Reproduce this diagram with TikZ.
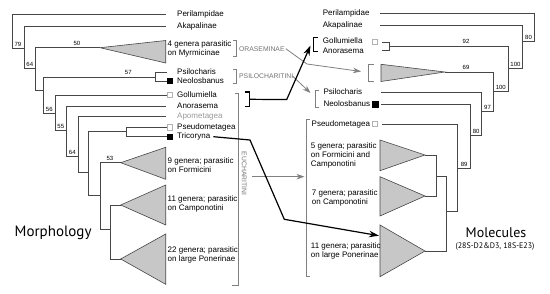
\documentclass[tikz,border=0pt]{standalone}
\usepackage{fontspec}
\setmainfont{Liberation Sans}
\newfontfamily\titlefont{PT Sans}
\usetikzlibrary{arrows.meta}

\begin{document}
\begin{tikzpicture}[x=1pt, y=-1pt,
		br/.style={draw=black!72, line width=0.6pt},
		tri/.style={draw=black!72, fill=black!22, line width=0.6pt},
		tip/.style={anchor=west, inner sep=0pt, text height=6pt, text depth=1.7pt, font=\fontsize{8}{9}\selectfont},
		txt/.style={anchor=west, inner sep=0pt, align=left, font=\fontsize{8}{9}\selectfont},
		boot/.style={inner sep=0pt, font=\fontsize{6}{6}\selectfont},
		grp/.style={anchor=west, inner sep=0pt, text=black!55, font=\fontsize{6.8}{7}\selectfont},
		gbr/.style={draw=black!50, line width=0.6pt},
		kbr/.style={draw=black, line width=1.6pt},
		sq/.style={draw=black!30, line width=0.5pt, minimum size=5.3pt, inner sep=0pt},
		bsq/.style={sq, draw=black, fill=black},
		garrow/.style={draw=black!50, line width=0.8pt, -{Stealth[length=8pt, width=5.5pt]}},
		karrow/.style={draw=black, line width=1.2pt, -{Stealth[length=10pt, width=6.5pt]}}
		]
		\useasboundingbox (0,0) rectangle (550,294);

		% morphology tree
		\node[tip] (periL) at (177,14.7) {Perilampidae};
		\node[tip] (akapL) at (177,26.7) {Akapalinae};
		\node[tip] (psilL) at (177,72.3) {Psilocharis};
		\node[tip] (neolL) at (177,81) {Neolosbanus};
		\node[tip] (gollL) at (177,95) {Gollumiella};
		\node[tip] (anorL) at (177,106) {Anorasema};
		\node[tip, text=black!40] (apomL) at (177,116.7) {Apometagea};
		\node[tip] (pseuL) at (177,127.3) {Pseudometagea};
		\node[tip] (tricL) at (177,136.7) {Tricoryna};
		\node[bsq] (sqNeolL) at (169.7,81) {};
		\node[sq] (sqGollL) at (169.5,95) {};
		\node[sq] (sqPseuL) at (169.5,127.3) {};
		\node[bsq] (sqTricL) at (169.5,136.7) {};

		\coordinate (mR) at (12.3,48.3);
		\coordinate (m1) at (24.3,48.3);
		\coordinate (m2) at (35.7,68.3);
		\coordinate (m3) at (43.7,90);
		\coordinate (mPs) at (155.7,77.3);
		\coordinate (m4) at (55,113.3);
		\coordinate (m5) at (66.7,130);
		\coordinate (m6) at (78.3,156);
		\coordinate (m7) at (88.3,172.7);
		\coordinate (mPu) at (126.7,131);
		\coordinate (m8) at (100,195);
		\coordinate (m9) at (110,229.3);
		\coordinate (oraTL) at (100,47.7);
		\coordinate (t9L) at (120.7,162.7);
		\coordinate (t11L) at (120.7,205);
		\coordinate (t22L) at (120.7,259);

		\draw[tri] (oraTL) -- (165.7,40.5) -- (165.7,63) -- cycle;
		\draw[tri] (t9L) -- (165.7,147.3) -- (165.7,179.3) -- cycle;
		\draw[tri] (t11L) -- (165.7,185) -- (165.7,225) -- cycle;
		\draw[tri] (t22L) -- (165.7,234) -- (165.7,284.3) -- cycle;

		\draw[br] (mR) |- ([xshift=-11pt]periL.west);
		\draw[br] (mR) -- (m1);
		\draw[br] (m1) |- ([xshift=-11pt]akapL.west);
		\draw[br] (m1) |- (m2);
		\draw[br] (m2) |- (oraTL);
		\draw[br] (m2) |- (m3);
		\draw[br] (m3) |- (mPs);
		\draw[br] (mPs) |- (sqNeolL.west);
		\draw[br] (mPs) |- ([xshift=-10pt]psilL.west);
		\draw[br] (m3) |- (m4);
		\draw[br] (m4) |- (sqGollL.west);
		\draw[br] (m4) |- (m5);
		\draw[br] (m5) |- ([xshift=-11pt]anorL.west);
		\draw[br] (m5) |- (m6);
		\draw[br] (m6) |- ([xshift=-11pt]apomL.west);
		\draw[br] (m6) |- (m7);
		\draw[br] (m7) |- (mPu);
		\draw[br] (mPu) |- (sqPseuL.west);
		\draw[br] (mPu) |- (sqTricL.west);
		\draw[br] (m7) |- (m8);
		\draw[br] (m8) |- (t9L);
		\draw[br] (m8) |- (m9);
		\draw[br] (m9) |- (t11L);
		\draw[br] (m9) |- (t22L);

		\node[boot] at (18,44.3) {79};
		\node[boot] at (29.8,64.6) {64};
		\node[boot] at (77,43.6) {50};
		\node[boot] at (128.3,72.6) {57};
		\node[boot] at (49.3,109.6) {56};
		\node[boot] at (60.8,126.3) {55};
		\node[boot] at (72.3,152.2) {64};
		\node[boot] at (110,158.8) {53};

		\node[txt] (oraTxtL) at (167.5,49) {4 genera parasitic\\on Myrmicinae};
		\node[txt] (f9L) at (167.5,165) {9 genera; parasitic\\on Formicini};
		\node[txt] (c11L) at (167.5,204.2) {11 genera; parasitic\\on Camponotini};
		\node[txt] (p22L) at (167.5,255.2) {22 genera; parasitic\\on large Ponerinae};

		% groups on the left
		\draw[gbr] (233,40) -- (236,40) -- (236,56) -- (233,56);
		\draw[gbr] (233,69) -- (236,69) -- (236,83) -- (233,83);
		\draw[gbr] (235,93.3) -- (238.3,93.3) -- (238.3,285.7) -- (232,285.7);
		\node[grp] (oraG) at (239,48.7) {ORASEMINAE};
		\node[grp] (psiG) at (239,76) {PSILOCHARITINI};
		\node[grp, anchor=center, rotate=-90] (eucG) at (244.3,173.5) {EUCHARITINI};
		\draw[kbr] (244.5,92.3) -- (249.5,92.3) -- (249.5,106.5) -- (244.5,106.5);
		\coordinate (golBrL) at (249.5,99.3);

		\node[font=\titlefont\fontsize{15}{15}\selectfont, anchor=west, inner sep=0pt] (morph) at (14.5,232.5) {Morphology};

		% molecular tree
		\node[tip] (periR) at (322.7,13.3) {Perilampidae};
		\node[tip] (akapR) at (322.7,25.7) {Akapalinae};
		\node[tip] (gollR) at (322.7,41) {Gollumiella};
		\node[tip] (anorR) at (322.7,51.5) {Anorasema};
		\node[tip] (psilR) at (323.3,92.3) {Psilocharis};
		\node[tip] (neolR) at (323.3,104.3) {Neolosbanus};
		\node[tip] (pseuR) at (311.5,124) {Pseudometagea};
		\node[sq] (sqGollR) at (374.5,41.5) {};
		\node[bsq] (sqNeolR) at (375.3,104.3) {};
		\node[sq] (sqPseuR) at (374.8,124) {};

		\coordinate (nR) at (534.3,41.7);
		\coordinate (n1) at (522.7,41.7);
		\coordinate (n2) at (508.3,68.3);
		\coordinate (nGo) at (389.3,46.5);
		\coordinate (n3) at (493.3,91);
		\coordinate (n4) at (481.7,111);
		\coordinate (n5) at (470.7,135);
		\coordinate (n6) at (457.7,168);
		\coordinate (n7) at (446.7,211.7);
		\coordinate (n8) at (436,176);
		\coordinate (oraTR) at (445,72);
		\coordinate (t5R) at (425,155);
		\coordinate (t7R) at (425,196);
		\coordinate (t11R) at (425,251);

		\draw[tri] (oraTR) -- (381,64.3) -- (381,81.5) -- cycle;
		\draw[tri] (t5R) -- (380,140) -- (380,170.7) -- cycle;
		\draw[tri] (t7R) -- (380,176.7) -- (380,216) -- cycle;
		\draw[tri] (t11R) -- (380,225) -- (380,276.7) -- cycle;

		\draw[br] (nR) |- (380,13.3);
		\draw[br] (nR) -- (n1);
		\draw[br] (n1) |- (380,25.7);
		\draw[br] (n1) |- (n2);
		\draw[br] (n2) |- (nGo);
		\draw[br] (nGo) |- (382,42.5);
		\draw[br] (nGo) |- (382,50.5);
		\draw[br] (n2) |- (n3);
		\draw[br] (n3) |- (oraTR);
		\draw[br] (n3) |- (n4);
		\draw[br] (n4) |- (381,92.3);
		\draw[br] (n4) |- (n5);
		\draw[br] (n5) |- ([xshift=3pt]sqNeolR.east);
		\draw[br] (n5) |- (n6);
		\draw[br] (n6) |- ([xshift=4pt]sqPseuR.east);
		\draw[br] (n6) |- (n7);
		\draw[br] (n7) |- (n8);
		\draw[br] (n7) |- (t11R);
		\draw[br] (n8) |- (t5R);
		\draw[br] (n8) |- (t7R);

		\node[boot] at (528.5,37.6) {80};
		\node[boot] at (515.5,64.3) {100};
		\node[boot] at (466,41.8) {92};
		\node[boot] at (500.8,87) {100};
		\node[boot] at (466,67.8) {69};
		\node[boot] at (487.5,107) {97};
		\node[boot] at (476.2,131) {80};
		\node[boot] at (464.2,164.2) {89};

		\node[txt] (f5R) at (310.7,155) {5 genera; parasitic\\on Formicini and\\Camponotini};
		\node[txt] (c7R) at (311.7,197.5) {7 genera; parasitic\\on Camponotini};
		\node[txt] (p11R) at (310.7,250.5) {11 genera; parasitic\\on large Ponerinae};

		% groups on the right
		\draw[gbr] (374,64) -- (368.3,64) -- (368.3,81.5) -- (374,81.5);
		\draw[gbr] (319,90) -- (315,90) -- (315,107.3) -- (319,107.3);
		\draw[gbr] (310,119) -- (306.7,119) -- (306.7,276) -- (310,276);
		\draw[kbr] (318,37.5) -- (313.5,37.5) -- (313.5,51.5) -- (318,51.5);
		\coordinate (golBrR) at (310.5,45.5);
		\coordinate (oraBrR) at (361,71.5);
		\coordinate (psiBrR) at (310.5,93);
		\coordinate (eucBrR) at (304.5,176.7);
		\coordinate (p11In) at (379,235.7);

		\node[font=\titlefont\fontsize{14}{14}\selectfont, inner sep=0pt] (molec) at (496,232.5) {Molecules};
		\node[font=\titlefont\fontsize{8}{8}\selectfont, inner sep=0pt] (markers) at (495,246.5) {(28S-D2\&D3, 18S-E23)};

		% connectors between the trees
		\draw[garrow] ([xshift=1pt]oraG.east) -- (307,64) -- (oraBrR);
		\draw[garrow] ([xshift=-1pt]psiG.east) -- (psiBrR);
		\draw[garrow] (251.5,176.7) -- (eucBrR);
		\draw[karrow] (golBrL) -- (286.7,99.6) -- (golBrR);
		\draw[karrow] ([xshift=3pt]tricL.east) -- (250,140) -- (284.3,219.3) -- (p11In);
	\end{tikzpicture}
\end{document}
